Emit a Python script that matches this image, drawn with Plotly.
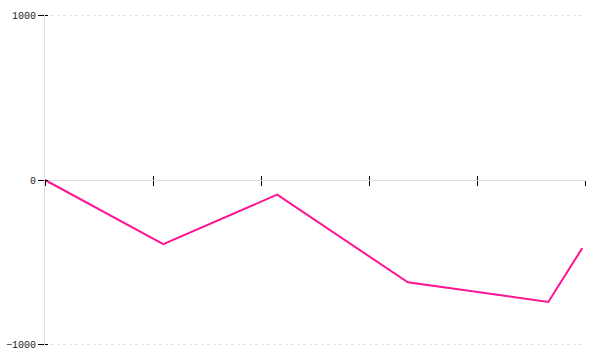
import plotly.graph_objects as go

x_values = [0, 21.9, 43.0, 67.2, 93.2, 99.5]
y_values = [0, -390, -89, -622, -741, -414]
y_tick_values = [-1000, 0, 1000]
y_tick_labels = ["\u22121000", "0", "1000"]

fig = go.Figure()
fig.add_trace(go.Scatter(x=x_values, y=y_values, mode="lines",
                         line=dict(color="#ff1493", width=2),
                         showlegend=False, hoverinfo="skip"))
# empty helper trace so the overlaid tick axes get drawn
fig.add_trace(go.Scatter(x=[None], y=[None], xaxis="x2", yaxis="y2", mode="lines",
                         showlegend=False, hoverinfo="skip"))

font = dict(family="Liberation Mono", size=10, color="#222")
xr = [0, 100]
yr = [-1009, 1009]

fig.update_layout(
    width=600, height=360,
    margin=dict(l=45, r=15, t=14, b=14, autoexpand=False),
    paper_bgcolor="white", plot_bgcolor="white",
    font=font,
    xaxis=dict(range=xr, dtick=20, tick0=0, showgrid=False, zeroline=False,
               anchor="free", position=0.5, showline=False,
               ticks="outside", ticklen=5, tickcolor="#000", tickwidth=1,
               showticklabels=False, automargin=False),
    xaxis2=dict(range=xr, dtick=20, tick0=0, overlaying="x", anchor="free", position=0.5,
                showgrid=False, zeroline=False, showline=False,
                ticks="inside", ticklen=4, tickcolor="#000", tickwidth=1,
                showticklabels=False, side="bottom", automargin=False),
    yaxis=dict(range=yr, tickvals=y_tick_values, ticktext=y_tick_labels,
               showgrid=True, gridcolor="#e4e4e4", griddash="dot", gridwidth=1,
               zeroline=True, zerolinecolor="#dddddd", zerolinewidth=1,
               showline=True, linecolor="#dddddd", linewidth=1,
               ticks="outside", ticklen=6, tickcolor="#000", tickwidth=1,
               ticklabelstandoff=0, automargin=False),
    yaxis2=dict(range=yr, tickvals=y_tick_values, overlaying="y", anchor="x", side="left",
                showgrid=False, zeroline=False, showline=False,
                ticks="inside", ticklen=3, tickcolor="#000", tickwidth=1,
                showticklabels=False, automargin=False),
)

fig.write_html("out.html")
